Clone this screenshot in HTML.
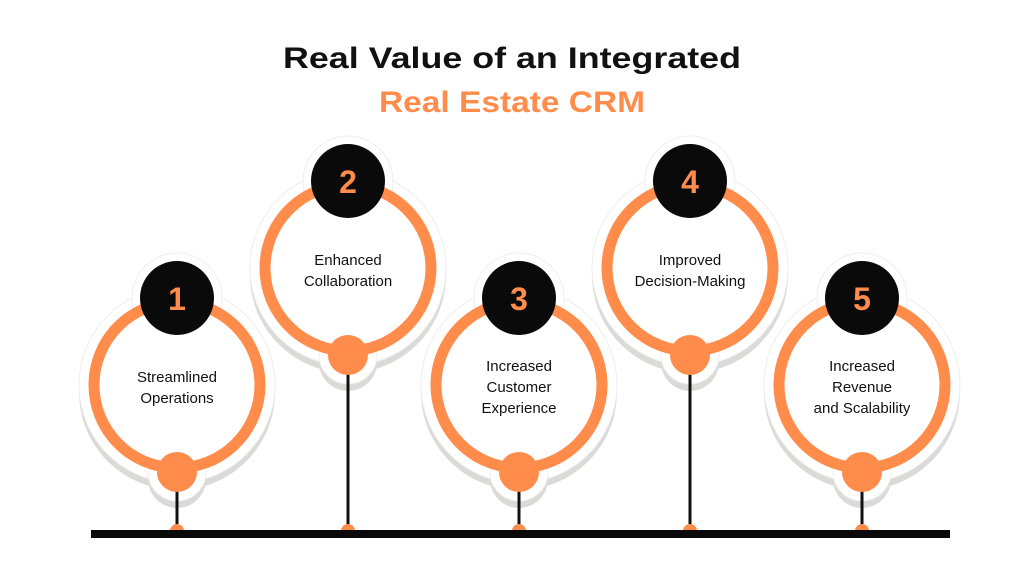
<!DOCTYPE html>
<html><head><meta charset="utf-8"><style>
html,body{margin:0;padding:0;background:#fff;}
svg{display:block;}
text{font-family:"Liberation Sans",sans-serif;}
</style></head><body>
<svg width="1024" height="576" viewBox="0 0 1024 576" xmlns="http://www.w3.org/2000/svg">
<defs>
<g id="halo">
  <circle cx="0" cy="0" r="98"/>
  <circle cx="0" cy="-87" r="45"/>
  <circle cx="0" cy="87" r="29"/>
</g>
</defs>
<text x="512" y="68" text-anchor="middle" font-size="30" font-weight="bold" fill="#111" textLength="458" lengthAdjust="spacingAndGlyphs">Real Value of an Integrated</text>
<text x="512" y="112" text-anchor="middle" font-size="30" font-weight="bold" fill="#FF8C4B" textLength="266" lengthAdjust="spacingAndGlyphs">Real Estate CRM</text>

<g id="items">
<!-- item template: halo shadow, halo white, ring, dots -->
<g transform="translate(177,385)">
  <use href="#halo" fill="#dcdad8" transform="translate(0,7)"/>
  <use href="#halo" fill="#fff" stroke="#eeeeee" stroke-width="1"/>
  <circle r="83" fill="#fff" stroke="#FF8C4B" stroke-width="11"/>
  <line x1="0" y1="87" x2="0" y2="147" stroke="#111" stroke-width="3"/>
  <circle cx="0" cy="87" r="20" fill="#FF8C4B"/>
  <circle cx="0" cy="-87" r="37" fill="#0a0a0a"/>
  <text x="0" y="-75" text-anchor="middle" font-size="32" font-weight="bold" fill="#FF8C4B">1</text>
  <text x="0" y="-3" text-anchor="middle" font-size="15" fill="#111">Streamlined</text>
  <text x="0" y="18" text-anchor="middle" font-size="15" fill="#111">Operations</text>
</g>
<g transform="translate(348,268)">
  <use href="#halo" fill="#dcdad8" transform="translate(0,7)"/>
  <use href="#halo" fill="#fff" stroke="#eeeeee" stroke-width="1"/>
  <circle r="83" fill="#fff" stroke="#FF8C4B" stroke-width="11"/>
  <line x1="0" y1="87" x2="0" y2="264" stroke="#111" stroke-width="3"/>
  <circle cx="0" cy="87" r="20" fill="#FF8C4B"/>
  <circle cx="0" cy="-87" r="37" fill="#0a0a0a"/>
  <text x="0" y="-75" text-anchor="middle" font-size="32" font-weight="bold" fill="#FF8C4B">2</text>
  <text x="0" y="-3" text-anchor="middle" font-size="15" fill="#111">Enhanced</text>
  <text x="0" y="18" text-anchor="middle" font-size="15" fill="#111">Collaboration</text>
</g>
<g transform="translate(519,385)">
  <use href="#halo" fill="#dcdad8" transform="translate(0,7)"/>
  <use href="#halo" fill="#fff" stroke="#eeeeee" stroke-width="1"/>
  <circle r="83" fill="#fff" stroke="#FF8C4B" stroke-width="11"/>
  <line x1="0" y1="87" x2="0" y2="147" stroke="#111" stroke-width="3"/>
  <circle cx="0" cy="87" r="20" fill="#FF8C4B"/>
  <circle cx="0" cy="-87" r="37" fill="#0a0a0a"/>
  <text x="0" y="-75" text-anchor="middle" font-size="32" font-weight="bold" fill="#FF8C4B">3</text>
  <text x="0" y="-14" text-anchor="middle" font-size="15" fill="#111">Increased</text>
  <text x="0" y="7" text-anchor="middle" font-size="15" fill="#111">Customer</text>
  <text x="0" y="28" text-anchor="middle" font-size="15" fill="#111">Experience</text>
</g>
<g transform="translate(690,268)">
  <use href="#halo" fill="#dcdad8" transform="translate(0,7)"/>
  <use href="#halo" fill="#fff" stroke="#eeeeee" stroke-width="1"/>
  <circle r="83" fill="#fff" stroke="#FF8C4B" stroke-width="11"/>
  <line x1="0" y1="87" x2="0" y2="264" stroke="#111" stroke-width="3"/>
  <circle cx="0" cy="87" r="20" fill="#FF8C4B"/>
  <circle cx="0" cy="-87" r="37" fill="#0a0a0a"/>
  <text x="0" y="-75" text-anchor="middle" font-size="32" font-weight="bold" fill="#FF8C4B">4</text>
  <text x="0" y="-3" text-anchor="middle" font-size="15" fill="#111">Improved</text>
  <text x="0" y="18" text-anchor="middle" font-size="15" fill="#111">Decision-Making</text>
</g>
<g transform="translate(862,385)">
  <use href="#halo" fill="#dcdad8" transform="translate(0,7)"/>
  <use href="#halo" fill="#fff" stroke="#eeeeee" stroke-width="1"/>
  <circle r="83" fill="#fff" stroke="#FF8C4B" stroke-width="11"/>
  <line x1="0" y1="87" x2="0" y2="147" stroke="#111" stroke-width="3"/>
  <circle cx="0" cy="87" r="20" fill="#FF8C4B"/>
  <circle cx="0" cy="-87" r="37" fill="#0a0a0a"/>
  <text x="0" y="-75" text-anchor="middle" font-size="32" font-weight="bold" fill="#FF8C4B">5</text>
  <text x="0" y="-14" text-anchor="middle" font-size="15" fill="#111">Increased</text>
  <text x="0" y="7" text-anchor="middle" font-size="15" fill="#111">Revenue</text>
  <text x="0" y="28" text-anchor="middle" font-size="15" fill="#111">and Scalability</text>
</g>
</g>
<g fill="#FF8C4B">
  <circle cx="177" cy="531" r="7"/>
  <circle cx="348" cy="531" r="7"/>
  <circle cx="519" cy="531" r="7"/>
  <circle cx="690" cy="531" r="7"/>
  <circle cx="862" cy="531" r="7"/>
</g>
<rect x="91" y="530" width="859" height="8" fill="#0a0a0a"/>
</svg>
</body></html>
